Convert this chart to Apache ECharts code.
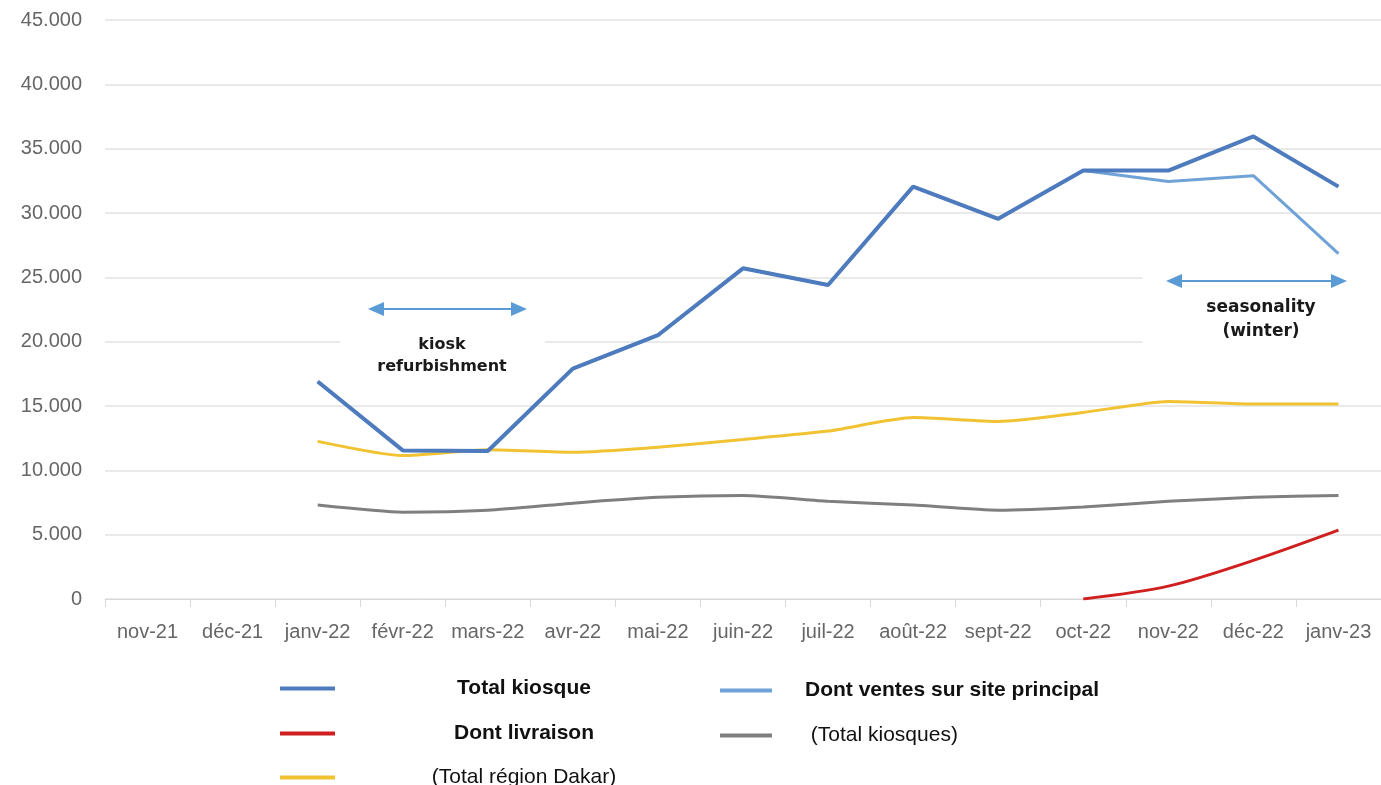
<!DOCTYPE html>
<html>
<head>
<meta charset="utf-8">
<script src="https://cdn.jsdelivr.net/npm/echarts@6/dist/echarts.min.js"></script>
<style>
html,body{margin:0;padding:0;background:#fff;}
#chart{width:1381px;height:785px;}
</style>
</head>
<body>
<div id="chart"></div>
<script>
const categories = ['nov-21','déc-21','janv-22','févr-22','mars-22','avr-22','mai-22','juin-22','juil-22','août-22','sept-22','oct-22','nov-22','déc-22','janv-23'];
const totalKiosque = [null,null,16900,11550,11500,17900,20500,25700,24400,32050,29550,33300,33300,35950,32050];
const venteSitePrincipal = [null,null,16900,11550,11500,17900,20500,25700,24400,32050,29550,33300,32450,32900,26850];
const livraison = [null,null,null,null,null,null,null,null,null,null,null,0,1000,3000,5350];
const totalKiosques = [null,null,7300,6750,6900,7450,7900,8050,7600,7300,6900,7150,7600,7900,8050];
const totalRegionDakar = [null,null,12250,11150,11600,11400,11800,12400,13050,14100,13800,14500,15350,15150,15150];
const yTicks = [0,5000,10000,15000,20000,25000,30000,35000,40000,45000];

const FONT = "'Liberation Sans', Arial, sans-serif";
const C_TOTAL = '#4d7bbd';
const C_SITE = '#6fa3d8';
const C_LIV = '#d01f1f';
const C_GRAY = '#7f7f7f';
const C_YEL = '#f1c232';
const C_ARROW = '#5b9bd5';

function fmt(v){ return String(v).replace(/\B(?=(\d{3})+(?!\d))/g,'.'); }

function legendCol1(name, top){
  return {
    data:[name], left:275, top:top, orient:'horizontal',
    icon:'rect', itemWidth:55, itemHeight:4,
    formatter: '{a|' + name + '}',
    textStyle:{ rich:{ a:{ width:368, align:'center', fontFamily:FONT, fontSize:21, color:'#111', fontWeight: name.charAt(0)==='(' ? 'normal' : 'bold' } } }
  };
}
function legendCol2(name, top, bold){
  return {
    data:[name], left:715, top:top, orient:'horizontal',
    icon:'rect', itemWidth:52, itemHeight:4,
    formatter: '{a|' + name + '}',
    textStyle:{ rich:{ a:{ padding:[0,0,0,28], fontFamily:FONT, fontSize:21, color:'#111', fontWeight: bold ? 'bold':'normal' } } }
  };
}

const chart = echarts.init(document.getElementById('chart'), null, {renderer:'canvas'});

function arrow(x1, x2, y){
  const h = 16, w = 7;
  return [
    {type:'line', z:5, shape:{x1:x1+h-2, y1:y, x2:x2-h+2, y2:y}, style:{stroke:C_ARROW, lineWidth:2}},
    {type:'polygon', z:5, shape:{points:[[x1,y],[x1+h,y-w],[x1+h,y+w]]}, style:{fill:C_ARROW}},
    {type:'polygon', z:5, shape:{points:[[x2,y],[x2-h,y-w],[x2-h,y+w]]}, style:{fill:C_ARROW}}
  ];
}

chart.setOption({
  animation:false,
  backgroundColor:'#ffffff',
  grid:{ left:105, top:20, width:1281, height:579, containLabel:false },
  xAxis:{
    type:'category', data:categories, boundaryGap:true,
    axisLine:{ show:true, lineStyle:{ color:'#d9d9d9', width:1 } },
    axisTick:{ show:true, length:8, lineStyle:{ color:'#d9d9d9' } },
    axisLabel:{ color:'#666666', fontFamily:FONT, fontSize:20, margin:23, interval:0 },
    splitLine:{ show:false }
  },
  yAxis:{
    type:'value', min:0, max:45000, interval:5000,
    axisLine:{ show:false }, axisTick:{ show:false },
    axisLabel:{ color:'#666666', fontFamily:FONT, fontSize:20, margin:23, formatter: v => fmt(v) },
    splitLine:{ show:true, lineStyle:{ color:'#e2e2e2', width:1.5 } }
  },
  legend:[
    legendCol1('Total kiosque', 673),
    legendCol2('Dont ventes sur site principal', 675, true),
    legendCol1('Dont livraison', 718),
    legendCol2(' (Total kiosques)', 720, false),
    legendCol1('(Total région Dakar)', 762)
  ],
  series:[
    { name:'Total kiosque', type:'line', data:totalKiosque, showSymbol:false, symbol:'none',
      lineStyle:{ color:C_TOTAL, width:4 }, itemStyle:{ color:C_TOTAL }, z:4 },
    { name:'Dont ventes sur site principal', type:'line', data:venteSitePrincipal, showSymbol:false, symbol:'none',
      lineStyle:{ color:C_SITE, width:3 }, itemStyle:{ color:C_SITE }, z:3 },
    { name:'Dont livraison', type:'line', data:livraison, showSymbol:false, symbol:'none', smooth:0.3,
      lineStyle:{ color:C_LIV, width:3 }, itemStyle:{ color:C_LIV }, z:3 },
    { name:' (Total kiosques)', type:'line', data:totalKiosques, showSymbol:false, symbol:'none', smooth:0.2,
      lineStyle:{ color:C_GRAY, width:3 }, itemStyle:{ color:C_GRAY }, z:3 },
    { name:'(Total région Dakar)', type:'line', data:totalRegionDakar, showSymbol:false, symbol:'none', smooth:0.2,
      lineStyle:{ color:C_YEL, width:3 }, itemStyle:{ color:C_YEL }, z:3 }
  ],
  graphic:[
    {type:'rect', z:1, shape:{x:340, y:322, width:205, height:64}, style:{fill:'#ffffff'}},
    {type:'rect', z:1, shape:{x:1142, y:268, width:239, height:80}, style:{fill:'#ffffff'}},
    ...arrow(368, 527, 309),
    ...arrow(1166, 1347, 281),
    {type:'text', z:6, x:442, y:334, style:{text:'kiosk\nrefurbishment', textAlign:'center', fill:'#1a1a1a', font:"bold 16px 'DejaVu Sans', sans-serif", lineHeight:22}},
    {type:'text', z:6, x:1261, y:296, style:{text:'seasonality\n(winter)', textAlign:'center', fill:'#1a1a1a', font:"bold 17px 'DejaVu Sans', sans-serif", lineHeight:24}}
  ]
});
</script>
</body>
</html>
